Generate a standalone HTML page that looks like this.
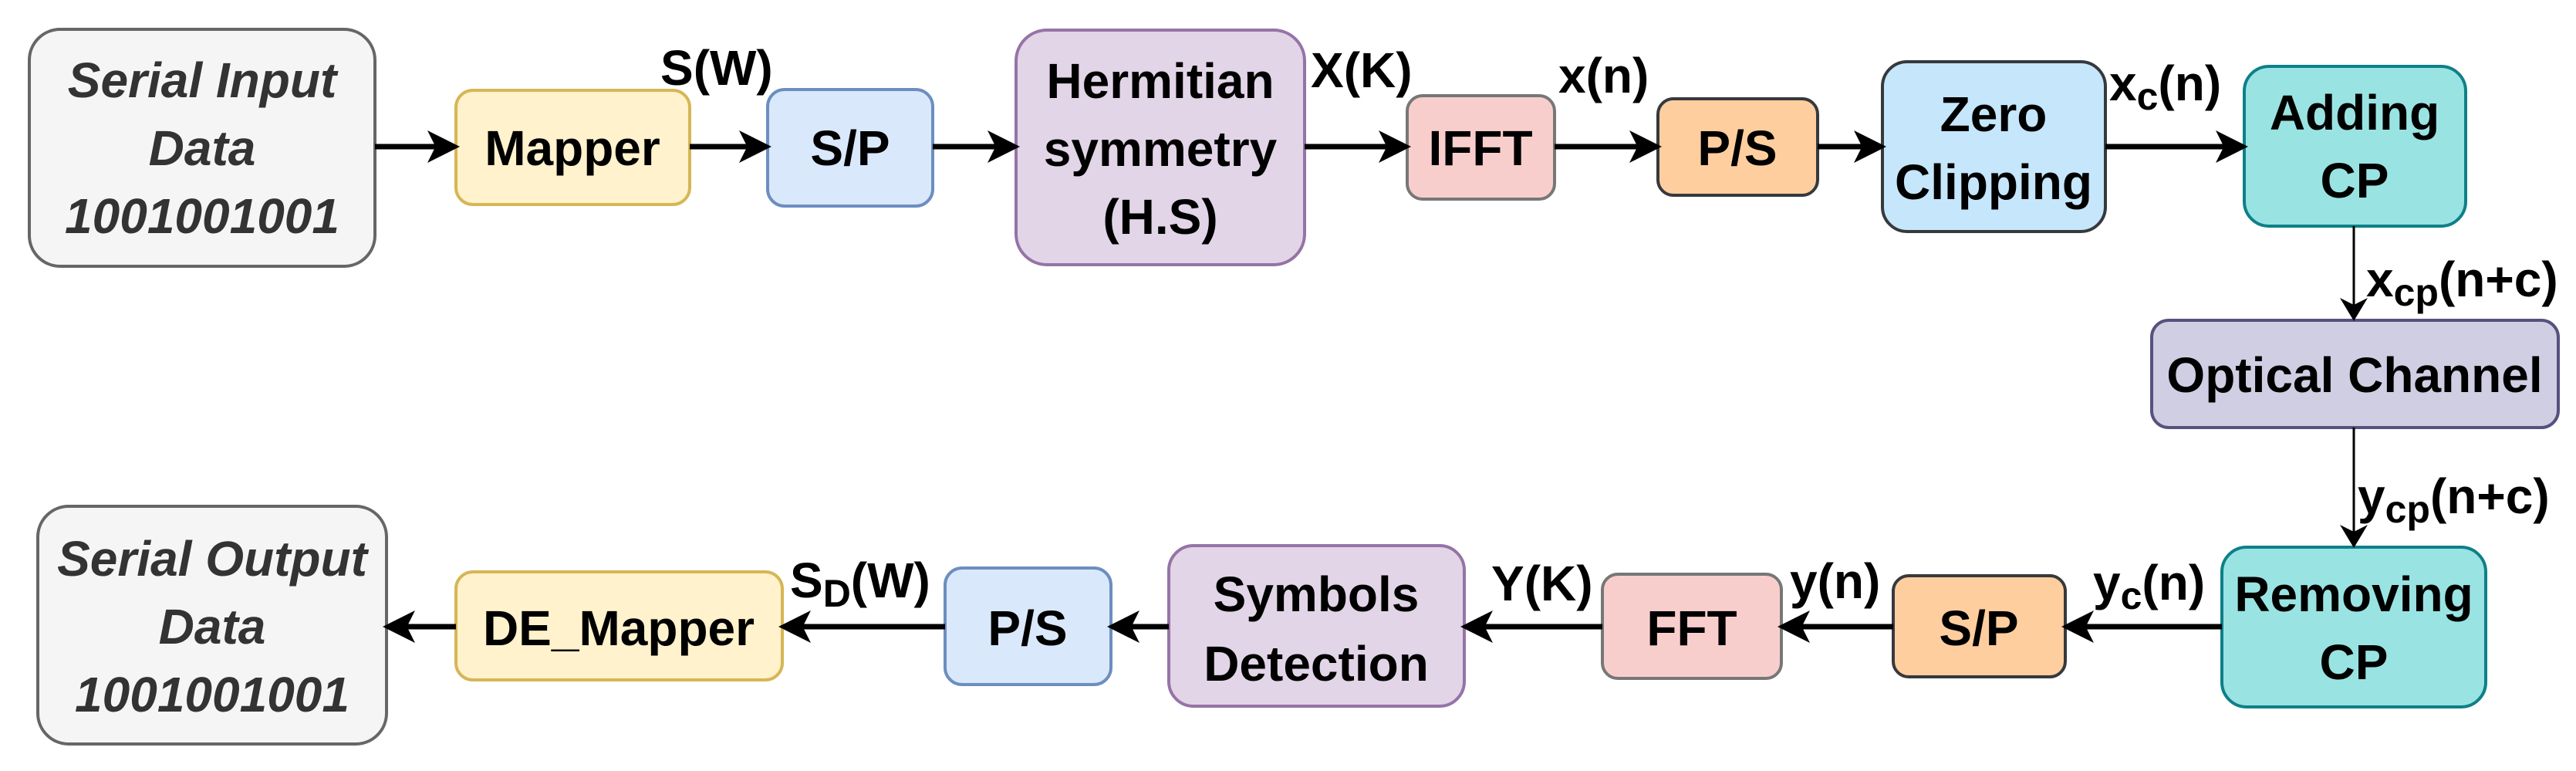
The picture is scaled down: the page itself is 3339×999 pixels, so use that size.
<!DOCTYPE html>
<html><head><meta charset="utf-8"><style>
html,body{margin:0;padding:0;background:#fff;}
svg{display:block;}
text{font-family:"Liberation Sans",Arial,sans-serif;font-weight:bold;font-size:64px;fill:#000;}
.it{font-style:italic;fill:#333;}
</style></head><body>
<svg width="3339" height="999" viewBox="0 0 3339 999" xmlns="http://www.w3.org/2000/svg">
<defs>
<marker id="a" markerWidth="6" markerHeight="6" refX="5" refY="3" orient="auto" markerUnits="strokeWidth">
<path d="M0,0 L6,3 L0,6 L1.5,3 z" fill="#000"/></marker>
<marker id="b" markerWidth="10" markerHeight="12" refX="9" refY="6" orient="auto" markerUnits="strokeWidth">
<path d="M0,0 L10,6 L0,12 L3,6 z" fill="#000"/></marker>
</defs>

<!-- Top row boxes -->
<rect x="38" y="38" width="448" height="307" rx="40" fill="#f5f5f5" stroke="#666" stroke-width="4"/>
<text class="it" x="262" y="126" text-anchor="middle">Serial Input</text>
<text class="it" x="262" y="214" text-anchor="middle">Data</text>
<text class="it" x="262" y="302" text-anchor="middle">1001001001</text>

<rect x="591" y="117" width="303" height="148" rx="22" fill="#fff2cc" stroke="#d6b656" stroke-width="4"/>
<text x="742" y="214" text-anchor="middle">Mapper</text>

<rect x="995" y="116" width="214" height="151" rx="22" fill="#dae8fc" stroke="#6c8ebf" stroke-width="4"/>
<text x="1102" y="214" text-anchor="middle">S/P</text>

<rect x="1317" y="39" width="374" height="304" rx="40" fill="#e1d5e7" stroke="#9673a6" stroke-width="4"/>
<text x="1504" y="127" text-anchor="middle">Hermitian</text>
<text x="1504" y="215" text-anchor="middle">symmetry</text>
<text x="1504" y="303" text-anchor="middle">(H.S)</text>

<rect x="1824" y="124" width="191" height="134" rx="20" fill="#f8cecc" stroke="#777" stroke-width="4"/>
<text x="1919" y="214" text-anchor="middle">IFFT</text>

<rect x="2149" y="128" width="207" height="125" rx="20" fill="#ffce9f" stroke="#36393d" stroke-width="4"/>
<text x="2252" y="214" text-anchor="middle">P/S</text>

<rect x="2440" y="80" width="289" height="220" rx="32" fill="#c6e6fb" stroke="#36393d" stroke-width="4"/>
<text x="2584" y="170" text-anchor="middle">Zero</text>
<text x="2584" y="258" text-anchor="middle">Clipping</text>

<rect x="2909" y="86" width="287" height="207" rx="32" fill="#9ae3e3" stroke="#0e8088" stroke-width="4"/>
<text x="3052" y="168" text-anchor="middle">Adding</text>
<text x="3052" y="256" text-anchor="middle">CP</text>

<rect x="2789" y="415" width="527" height="139" rx="22" fill="#d0cee2" stroke="#56517e" stroke-width="4"/>
<text x="3052" y="508" text-anchor="middle" font-size="60">Optical Channel</text>

<rect x="2880" y="709" width="342" height="207" rx="32" fill="#9ae3e3" stroke="#0e8088" stroke-width="4"/>
<text x="3051" y="792" text-anchor="middle">Removing</text>
<text x="3051" y="880" text-anchor="middle">CP</text>

<!-- Bottom row -->
<rect x="2454" y="746" width="223" height="131" rx="20" fill="#ffce9f" stroke="#36393d" stroke-width="4"/>
<text x="2565" y="836" text-anchor="middle">S/P</text>

<rect x="2077" y="744" width="232" height="135" rx="20" fill="#f8cecc" stroke="#777" stroke-width="4"/>
<text x="2193" y="836" text-anchor="middle">FFT</text>

<rect x="1515" y="707" width="383" height="208" rx="32" fill="#e1d5e7" stroke="#9673a6" stroke-width="4"/>
<text x="1706" y="792" text-anchor="middle">Symbols</text>
<text x="1706" y="882" text-anchor="middle">Detection</text>

<rect x="1225" y="736" width="215" height="151" rx="22" fill="#dae8fc" stroke="#6c8ebf" stroke-width="4"/>
<text x="1332" y="836" text-anchor="middle">P/S</text>

<rect x="591" y="741" width="423" height="140" rx="22" fill="#fff2cc" stroke="#d6b656" stroke-width="4"/>
<text x="802" y="836" text-anchor="middle">DE_Mapper</text>

<rect x="49" y="656" width="452" height="308" rx="40" fill="#f5f5f5" stroke="#666" stroke-width="4"/>
<text class="it" x="275" y="746" text-anchor="middle">Serial Output</text>
<text class="it" x="275" y="834" text-anchor="middle">Data</text>
<text class="it" x="275" y="922" text-anchor="middle">1001001001</text>

<!-- Arrows top -->
<g stroke="#000" stroke-width="7" fill="none" marker-end="url(#a)">
<line x1="486" y1="190" x2="589" y2="190"/>
<line x1="894" y1="190" x2="993" y2="190"/>
<line x1="1209" y1="190" x2="1315" y2="190"/>
<line x1="1691" y1="190" x2="1822" y2="190"/>
<line x1="2015" y1="190" x2="2147" y2="190"/>
<line x1="2356" y1="190" x2="2438" y2="190"/>
<line x1="2729" y1="190" x2="2907" y2="190"/>
<!-- bottom -->
<line x1="2880" y1="812" x2="2679" y2="812"/>
<line x1="2454" y1="812" x2="2311" y2="812"/>
<line x1="2077" y1="812" x2="1900" y2="812"/>
<line x1="1515" y1="812" x2="1442" y2="812"/>
<line x1="1225" y1="812" x2="1016" y2="812"/>
<line x1="591" y1="812" x2="503" y2="812"/>
</g>
<g stroke="#000" stroke-width="3" fill="none" marker-end="url(#b)">
<line x1="3051" y1="293" x2="3051" y2="413"/>
<line x1="3051" y1="554" x2="3051" y2="707"/>
</g>

<!-- Labels -->
<text x="856" y="110">S(W)</text>
<text x="1699" y="113">X(K)</text>
<text x="2020" y="120">x(n)</text>
<text x="2734" y="130">x<tspan font-size="50" dy="12">c</tspan><tspan dy="-12">(n)</tspan></text>
<text x="3067" y="384">x<tspan font-size="50" dy="12">cp</tspan><tspan dy="-12">(n+c)</tspan></text>
<text x="3056" y="665">y<tspan font-size="50" dy="12">cp</tspan><tspan dy="-12">(n+c)</tspan></text>
<text x="2713" y="777">y<tspan font-size="50" dy="12">c</tspan><tspan dy="-12">(n)</tspan></text>
<text x="2320" y="775">y(n)</text>
<text x="1933" y="778">Y(K)</text>
<text x="1024" y="774">S<tspan font-size="50" dy="12">D</tspan><tspan dy="-12">(W)</tspan></text>
</svg>
</body></html>
